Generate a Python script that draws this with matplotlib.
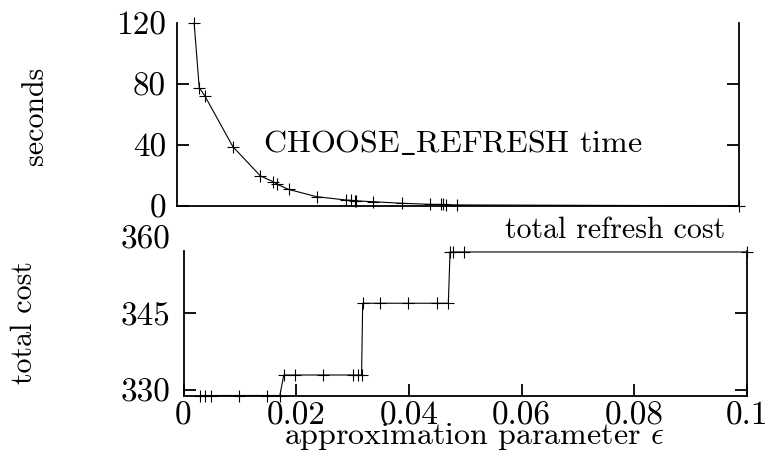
import matplotlib
matplotlib.use("Agg")
import matplotlib.pyplot as plt

plt.rcParams["font.family"] = ["cmr10", "DejaVu Serif"]
plt.rcParams["mathtext.fontset"] = "cm"
plt.rcParams["axes.formatter.use_mathtext"] = True

# approximation parameter values
epsilon = [0.0030, 0.0039, 0.0049, 0.0099, 0.0148, 0.0171, 0.0178, 0.0198,
           0.0248, 0.0301, 0.0309, 0.0316, 0.0318, 0.0349, 0.0399, 0.0449,
           0.0470, 0.0473, 0.0478, 0.0497, 0.1]
# CHOOSE_REFRESH running time (seconds)
seconds = [120, 77.8, 72.3, 38.9, 19.7, 15.9, 14.2, 10.9,
           6.1, 3.9, 3.7, 3.5, 3.4, 2.8, 1.8, 1.1,
           1.0, 1.0, 0.9, 0.7, 0.1]
# total refresh cost
total_cost = [329, 329, 329, 329, 329, 329, 333, 333,
              333, 333, 333, 333, 347, 347, 347, 347,
              347, 357, 357, 357, 357]

time_ticks = [0, 40, 80, 120]
cost_ticks = [330, 345, 360]
eps_ticks = [0, 0.02, 0.04, 0.06, 0.08, 0.1]
eps_tick_labels = ["0", "0.02", "0.04", "0.06", "0.08", "0.1"]

W, H = 769, 468
fig = plt.figure(figsize=(W / 100, H / 100), dpi=100)

def px_axes(x0, x1, ytop, ybot):
    return fig.add_axes([x0 / W, 1 - ybot / H, (x1 - x0) / W, (ybot - ytop) / H])

FS = 23
TICK_FS = 24
line_kw = dict(color="black", lw=0.8, marker="+", ms=8, mew=0.8, clip_on=False)
ytick_kw = dict(direction="in", length=8.5, width=1.3, labelsize=TICK_FS)

def hide_end_ticks(axis, limit):
    for t in axis.get_major_ticks():
        if t.get_loc() >= limit:
            t.tick1line.set_visible(False)
            t.tick2line.set_visible(False)

# --- upper panel: running time ---
ax1 = px_axes(177.3, 739.3, 23.3, 206)
ax1.plot(epsilon, seconds, **line_kw)
ax1.set_xlim(0, 0.1)
ax1.set_ylim(0, 120)
ax1.spines["top"].set_visible(False)
for s in ("left", "right", "bottom"):
    ax1.spines[s].set_linewidth(1.3)
ax1.set_xticks([])
ax1.set_yticks(time_ticks)
ax1.set_yticklabels([str(t) for t in time_ticks])
ax1.tick_params(axis="y", left=True, right=True, pad=8, **ytick_kw)
hide_end_ticks(ax1.yaxis, 120)
ax1.text(0.49, 0.34, r"CHOOSE$\_$REFRESH time", transform=ax1.transAxes,
         ha="center", va="center", fontsize=FS)

# --- lower panel: total cost ---
ax2 = px_axes(183.5, 747.0, 236.6, 395.5)
ax2.plot(epsilon, total_cost, **line_kw)
ax2.set_xlim(0, 0.1)
ax2.set_ylim(329, 360)
ax2.spines["top"].set_visible(False)
for s in ("left", "right", "bottom"):
    ax2.spines[s].set_linewidth(1.3)
ax2.spines["left"].set_bounds(329, max(total_cost) + 0.25)
ax2.spines["right"].set_bounds(329, max(total_cost) + 0.25)
ax2.set_yticks(cost_ticks)
ax2.set_yticklabels([str(c) for c in cost_ticks])
ax2.set_xticks(eps_ticks)
ax2.set_xticklabels(eps_tick_labels)
ax2.tick_params(axis="y", left=True, right=True, pad=9, **ytick_kw)
ax2.tick_params(axis="x", bottom=True, top=False, direction="in", length=8.5,
                width=1.3, labelsize=TICK_FS, pad=4)
hide_end_ticks(ax2.yaxis, max(total_cost) + 1)
ax2.text(725 / W, 1 - 238 / H, "total refresh cost", transform=fig.transFigure,
         ha="right", va="baseline", fontsize=21.5)

# axis titles
fig.text(474.5 / W, 1 - 444 / H, r"approximation parameter $\epsilon$",
         ha="center", va="baseline", fontsize=FS)
fig.text(35 / W, 1 - 115.6 / H, "seconds", rotation=90,
         ha="center", va="center", fontsize=21.5)
fig.text(24 / W, 1 - 323 / H, "total cost", rotation=90,
         ha="center", va="center", fontsize=21.5)

fig.savefig("out.png", dpi=100)
